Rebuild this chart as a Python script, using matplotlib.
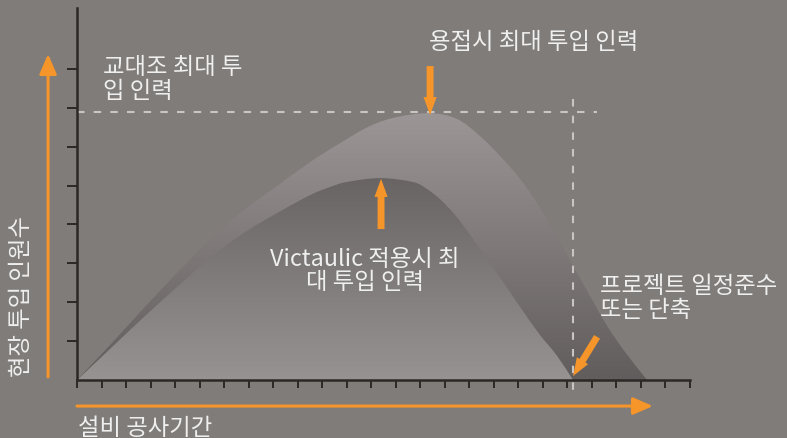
import numpy as np
import matplotlib.pyplot as plt
from matplotlib.patches import PathPatch, FancyArrowPatch
from matplotlib.path import Path
from matplotlib.colors import LinearSegmentedColormap

plt.rcParams['font.family'] = ['Noto Sans CJK KR', 'DejaVu Sans']

# x = 공사기간 (tick units), y = 투입 인원 (tick units)
weld_x = [0, 1.35, 2.73, 4.08, 5.42, 6.81, 8.16, 9.50, 10.73, 11.95, 13.05, 14.40,
          15.50, 16.44, 17.37, 18.07, 18.76, 19.49, 20.23, 20.92, 21.62, 22.35, 23.25]
weld_y = [0, 0.90, 1.85, 2.75, 3.60, 4.37, 4.99, 5.60, 6.09, 6.53, 6.76, 6.86,
          6.71, 6.27, 5.68, 5.17, 4.55, 3.78, 2.93, 2.16, 1.39, 0.72, 0]

vic_x = [0, 1.35, 2.73, 4.08, 5.42, 6.81, 8.16, 9.50, 10.32, 11.01, 12.36, 13.70, 14.27,
         14.80, 15.42, 16.03, 16.84, 17.54, 18.19, 18.88, 19.58, 20.23]
vic_y = [0, 0.80, 1.62, 2.39, 3.14, 3.78, 4.29, 4.75, 4.96, 5.09, 5.19, 5.09, 4.91,
         4.65, 4.24, 3.73, 3.01, 2.37, 1.77, 1.16, 0.62, 0]

x_ticks = list(range(26))
y_ticks = list(range(1, 9))
peak_level = 6.89      # 교대조 최대 투입 인력
deadline = 20.23       # 프로젝트 일정

bg = '#807c79'
orange = '#f5952a'
txt = '#efefef'
axis_c = '#2b2826'

fig = plt.figure(figsize=(7.87, 4.39), dpi=100, facecolor=bg)
ax = fig.add_axes([77/787, 1 - 381/439, 613/787, 372/439])
ax.set_facecolor(bg)


def smooth_path(xs, ys):
    # cubic bezier through the read points (catmull-rom control points)
    p = np.column_stack([xs, ys])
    q = np.vstack([p[0], p, p[-1]])
    verts, codes = [p[0]], [Path.MOVETO]
    for i in range(1, len(q) - 2):
        c1 = q[i] + (q[i + 1] - q[i - 1]) / 6
        c2 = q[i + 1] - (q[i + 2] - q[i]) / 6
        verts += [c1, c2, q[i + 1]]
        codes += [Path.CURVE4] * 3
    verts.append(p[0])
    codes.append(Path.CLOSEPOLY)
    return Path(verts, codes)


def gradient_fill(xs, ys, c_bottom, c_top):
    patch = PathPatch(smooth_path(xs, ys), facecolor='none', edgecolor='none')
    ax.add_patch(patch)
    cmap = LinearSegmentedColormap.from_list('g', [c_bottom, c_top])
    grad = np.linspace(0, 1, 256).reshape(-1, 1)
    im = ax.imshow(grad, cmap=cmap, origin='lower', aspect='auto',
                   extent=(0, max(xs), 0, max(ys) + 0.05), interpolation='bilinear', zorder=1)
    im.set_clip_path(patch)


gradient_fill(weld_x, weld_y, '#625d5d', '#9c9696')
gradient_fill(vic_x, vic_y, '#989393', '#686464')

ax.set_xlim(0, 25)
ax.set_ylim(0, 372 / 38.9)

for s in ['top', 'right']:
    ax.spines[s].set_visible(False)
for s in ['left', 'bottom']:
    ax.spines[s].set_color(axis_c)
    ax.spines[s].set_linewidth(1.8)
    ax.spines[s].set_zorder(5)
ax.set_xticks(x_ticks)
ax.set_yticks(y_ticks)
ax.tick_params(axis='x', direction='out', length=6, width=1.4, color=axis_c, labelbottom=False)
ax.tick_params(axis='y', direction='out', length=7.5, width=1.4, color=axis_c, labelleft=False)

# dashed guides
dash = dict(color='#c9c5c2', lw=1.5, dashes=(3.6, 4.4), clip_on=False, zorder=3)
ax.plot([0, 21.2], [peak_level, peak_level], **dash)
ax.plot([deadline, deadline], [7.22, -0.28], **dash)


def arrow(a, b, style):
    ax.add_patch(FancyArrowPatch(a, b, arrowstyle=style, mutation_scale=1, color=orange,
                                 shrinkA=0, shrinkB=0, clip_on=False, zorder=4,
                                 lw=0 if style.startswith('simple') else 2.2))


thin = '-|>,head_length=12,head_width=5.2'
block = 'simple,head_length=13,head_width=9.5,tail_width=5'
arrow((-1.18, 0.08), (-1.18, 8.38), thin)
arrow((0, -0.67), (23.49, -0.67), thin)
arrow((14.40, 8.07), (14.40, 6.81), block)
arrow((12.40, 3.88), (12.40, 5.17), block)
arrow((21.21, 1.11), (20.23, 0.10), block)

fs = 16.8
kw = dict(color=txt, fontsize=fs, clip_on=False)
ax.text(18.62, 8.71, '용접시 최대 투입 인력', ha='center', va='center', **kw)
ax.text(1.06, 7.76, '교대조 최대 투\n입 인력', ha='left', va='center', linespacing=1.05, **kw)
ax.text(11.75, 2.84, 'Victaulic 적용시 최\n대 투입 인력', ha='center', va='center',
        multialignment='center', linespacing=1.0, **kw)
ax.text(21.33, 2.13, '프로젝트 일정준수\n또는 단축', ha='left', va='center', linespacing=1.05, **kw)
ax.text(-2.28, 2.17, '현장 투입 인원수', rotation=90, ha='center', va='center', **kw)
ax.text(0.04, -1.21, '설비 공사기간', ha='left', va='center', **kw)

fig.savefig('out.png', dpi=100, facecolor=bg)
